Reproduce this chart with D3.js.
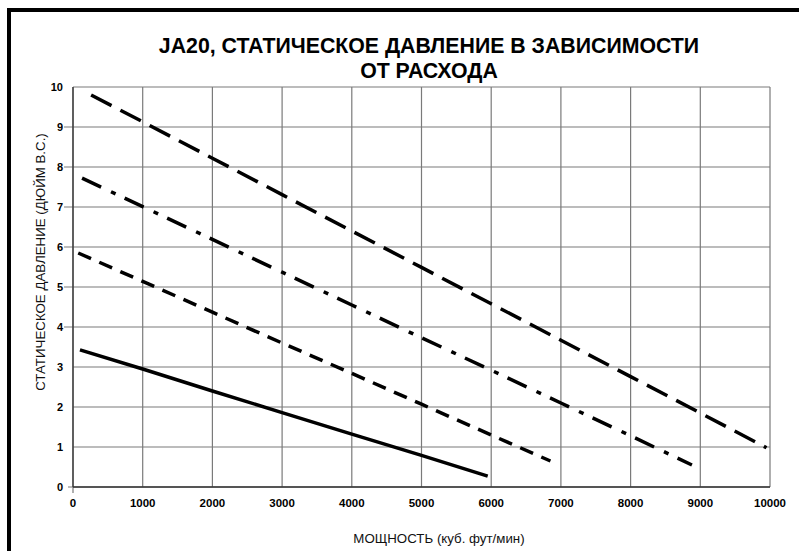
<!DOCTYPE html>
<meta charset="utf-8">
<style>
    body { margin: 0; background: #fff; }
    .title { font-family: "Liberation Sans", Arial, sans-serif; font-weight: bold; font-size: 21.3px; fill: #000; }
    .axis-title { font-family: "Liberation Sans", Arial, sans-serif; font-size: 13.3px; fill: #111; }
    .tick-x { font-family: "Liberation Sans", Arial, sans-serif; font-weight: bold; font-size: 11.5px; fill: #000; }
    .tick-y { font-family: "Liberation Sans", Arial, sans-serif; font-weight: bold; font-size: 11px; fill: #000; }
    .grid { stroke: #7a7a7a; stroke-width: 1.2; }
    .curve { fill: none; stroke: #000; stroke-width: 3.5; }
</style>
<body>
<svg id="chart" width="799" height="551"></svg>
</body>
<script src="https://cdn.jsdelivr.net/npm/d3@7"></script>
<script>
    // tick values
    var xTicks = [0, 1000, 2000, 3000, 4000, 5000, 6000, 7000, 8000, 9000, 10000];
    var yTicks = [0, 1, 2, 3, 4, 5, 6, 7, 8, 9, 10];

    // curves (cfm, in. w.c.)
    var solidX = [100, 1000, 2000, 3000, 4000, 5000, 5950];
    var solidY = [3.43, 2.95, 2.40, 1.86, 1.32, 0.79, 0.27];

    var shortDashX = [75, 1000, 2000, 3000, 4000, 5000, 6000, 6850];
    var shortDashY = [5.85, 5.14, 4.37, 3.60, 2.84, 2.07, 1.30, 0.65];

    var dashDotX = [130, 1000, 2000, 3000, 4000, 5000, 6000, 7000, 8000, 8880];
    var dashDotY = [7.72, 7.01, 6.19, 5.37, 4.55, 3.73, 2.92, 2.10, 1.28, 0.55];

    var longDashX = [260, 1000, 2000, 3000, 4000, 5000, 6000, 7000, 8000, 9000, 9950];
    var longDashY = [9.80, 9.13, 8.22, 7.31, 6.40, 5.49, 4.58, 3.67, 2.76, 1.85, 0.98];

    var titleLines = ["JA20, СТАТИЧЕСКОЕ ДАВЛЕНИЕ В ЗАВИСИМОСТИ", "ОТ РАСХОДА"];
    var xTitle = "МОЩНОСТЬ (куб. фут/мин)";
    var yTitle = "СТАТИЧЕСКОЕ ДАВЛЕНИЕ (ДЮЙМ В.С.)";

    var svg = d3.select("#chart");

    var x = d3.scaleLinear().domain([0, 10000]).range([73, 770]);
    var y = d3.scaleLinear().domain([0, 10]).range([487, 87]);

    // frame around the whole picture (runs off the right and bottom edge)
    svg.append("rect")
        .attr("x", 9).attr("y", 10)
        .attr("width", 900).attr("height", 700)
        .attr("fill", "none")
        .attr("stroke", "#000")
        .attr("stroke-width", 4);

    // grid
    svg.selectAll(".vgrid")
        .data(xTicks)
        .enter().append("line")
        .attr("class", "grid")
        .attr("x1", function(d) { return x(d); })
        .attr("x2", function(d) { return x(d); })
        .attr("y1", y(10))
        .attr("y2", function(d) { return d === 0 ? y(0) + 6 : y(0); });

    svg.selectAll(".hgrid")
        .data(yTicks)
        .enter().append("line")
        .attr("class", "grid")
        .attr("y1", function(d) { return y(d); })
        .attr("y2", function(d) { return y(d); })
        .attr("x1", function(d) { return d === 0 ? x(0) - 5 : (d >= 4 && d <= 9 ? x(0) - 9 : x(0)); })
        .attr("x2", x(10000));

    // axis lines
    svg.append("line")
        .attr("x1", x(0)).attr("x2", x(10000))
        .attr("y1", y(0)).attr("y2", y(0))
        .attr("stroke", "#333").attr("stroke-width", 1.3);
    svg.append("line")
        .attr("x1", x(0)).attr("x2", x(0))
        .attr("y1", y(0)).attr("y2", y(10))
        .attr("stroke", "#333").attr("stroke-width", 1.3);

    // tick labels
    svg.selectAll(".tick-x")
        .data(xTicks)
        .enter().append("text")
        .attr("class", "tick-x")
        .attr("x", function(d) { return x(d); })
        .attr("y", y(0) + 16)
        .attr("dy", "0.35em")
        .attr("text-anchor", "middle")
        .text(function(d) { return d; });

    svg.selectAll(".tick-y")
        .data(yTicks)
        .enter().append("text")
        .attr("class", "tick-y")
        .attr("x", 63)
        .attr("y", function(d) { return y(d); })
        .attr("dy", "0.35em")
        .attr("text-anchor", "end")
        .text(function(d) { return d; });

    // curves
    var line = d3.line()
        .x(function(d) { return x(d[0]); })
        .y(function(d) { return y(d[1]); });

    var curves = [
        { xs: solidX, ys: solidY, dash: null },
        { xs: shortDashX, ys: shortDashY, dash: "14,9" },
        { xs: dashDotX, ys: dashDotY, dash: "21,11,5,10" },
        { xs: longDashX, ys: longDashY, dash: "23,10" }
    ];

    svg.selectAll(".curve")
        .data(curves)
        .enter().append("path")
        .attr("class", "curve")
        .attr("d", function(c) { return line(d3.zip(c.xs, c.ys)); })
        .attr("stroke-dasharray", function(c) { return c.dash; });

    // titles
    svg.selectAll(".title")
        .data(titleLines)
        .enter().append("text")
        .attr("class", "title")
        .attr("x", 429)
        .attr("y", function(d, i) { return 53 + i * 25; })
        .attr("text-anchor", "middle")
        .text(function(d) { return d; });

    svg.append("text")
        .attr("class", "axis-title")
        .attr("x", 439)
        .attr("y", 543)
        .attr("text-anchor", "middle")
        .text(xTitle);

    svg.append("text")
        .attr("class", "axis-title")
        .attr("transform", "translate(45,262) rotate(-90)")
        .attr("text-anchor", "middle")
        .text(yTitle);
</script>
